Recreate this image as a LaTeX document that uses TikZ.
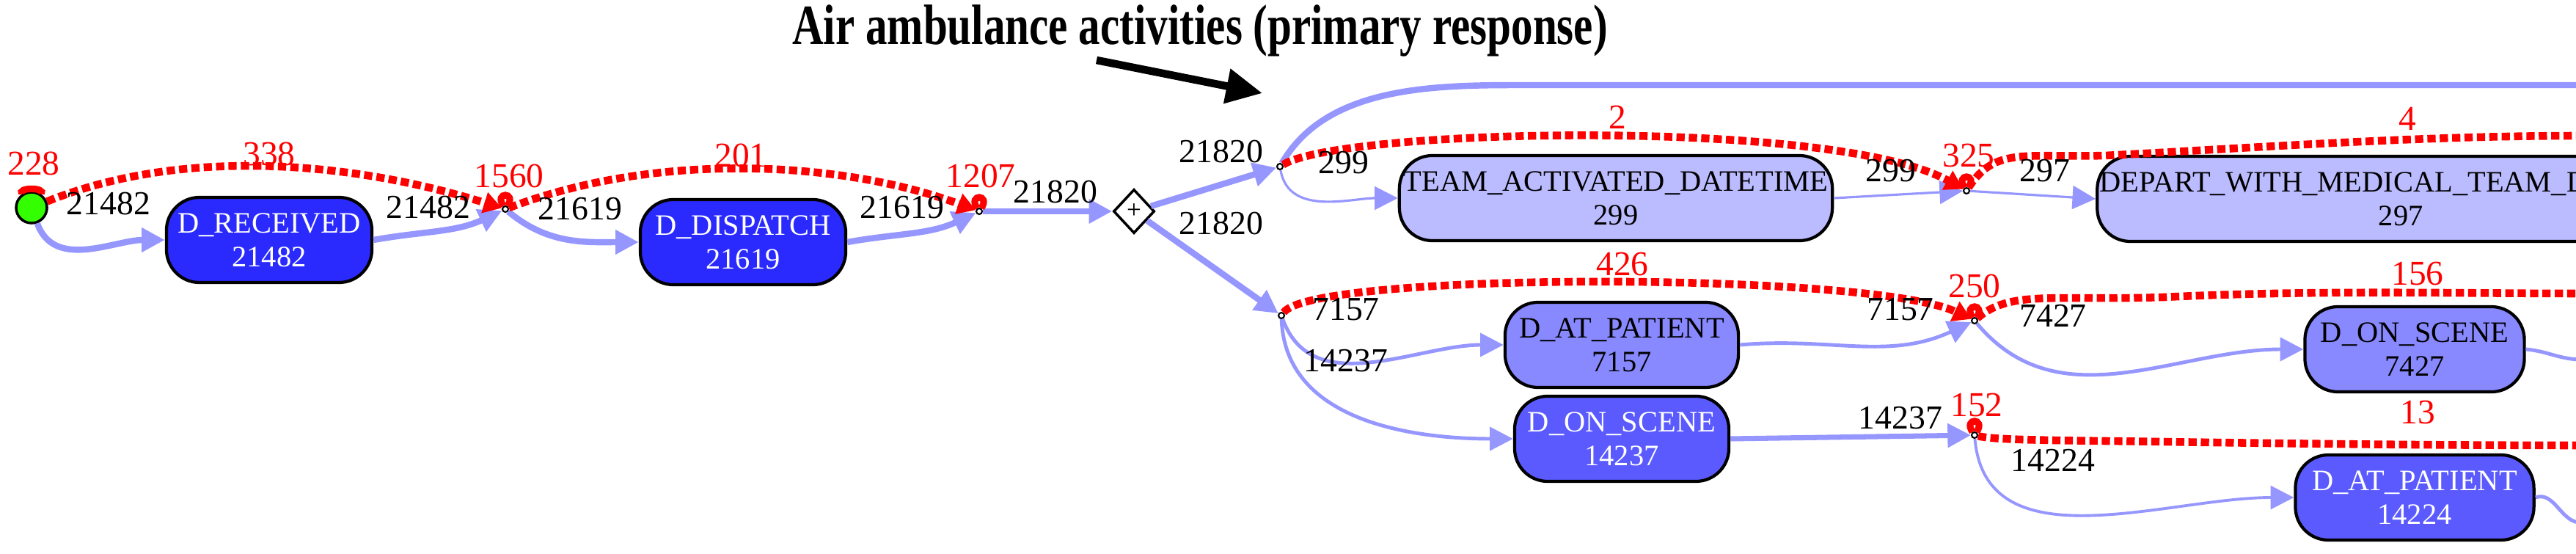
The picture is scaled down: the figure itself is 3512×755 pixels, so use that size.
\documentclass[tikz,border=0pt]{standalone}
\usepackage{fontspec}
\setmainfont{Liberation Serif}
\usetikzlibrary{arrows.meta,shapes.geometric}
\definecolor{eb}{RGB}{150,150,255}
\definecolor{f1}{RGB}{42,42,255}
\definecolor{f2}{RGB}{90,90,255}
\definecolor{f3}{RGB}{136,136,255}
\definecolor{f4}{RGB}{187,187,255}
\tikzset{
 box/.style={draw=black,line width=1.2pt,rounded corners=0.45cm,minimum height=1.16cm,align=center,font=\fontsize{11.5}{13}\selectfont,inner sep=1pt},
 jn/.style={circle,draw=black,line width=0.6pt,fill=white,inner sep=0pt,minimum size=0.08cm},
 el/.style={font=\fontsize{13}{13}\selectfont,inner sep=1pt},
 rl/.style={font=\fontsize{13.5}{14}\selectfont,inner sep=1pt,text=red},
 fl/.style={draw=eb,-{Triangle[length=9pt,width=9pt]}},
 rd/.style={draw=red,line width=3pt,dash pattern=on 3.2pt off 1.6pt,-{Triangle[length=7pt,width=8pt]}},
 lp/.style={draw=red,line width=2.6pt},
}
\begin{document}
\begin{tikzpicture}[x=0.01cm,y=-0.01cm]
\useasboundingbox (0,0) rectangle (3512,755);
\clip (0,0) rectangle (3512,755);
% title
\node[font=\fontsize{21}{22}\selectfont\bfseries] (title) at (1636,42) {\scalebox{0.8}[1.05]{Air ambulance activities (primary response)}};
\coordinate (atail) at (1495,82);
\coordinate (atip) at (1721,127);
\draw[line width=3pt,-{Triangle[length=14pt,width=13pt]}] (atail) -- (atip);
% nodes
\node[circle,draw=black,line width=1pt,fill=green!80!yellow,minimum size=0.42cm,inner sep=0pt] (st) at (43,283) {};
\node[box,fill=f1,text=white,minimum width=2.8cm] (rec) at (367,327) {D\_RECEIVED\\21482};
\node[jn] (j1) at (689,285) {};
\node[box,fill=f1,text=white,minimum width=2.8cm] (dis) at (1013,330) {D\_DISPATCH\\21619};
\node[jn] (j2) at (1335,288) {};
\node[diamond,draw=black,line width=1pt,fill=white,minimum width=0.56cm,minimum height=0.6cm,inner sep=0pt] (dm) at (1546,288) {};
\node[font=\fontsize{10}{10}\selectfont] (plus) at (1546,288) {+};
\node[jn] (su) at (1745,227) {};
\node[jn] (sl) at (1747,430) {};
\node[box,fill=f4,minimum width=5.9cm] (team) at (2203,270) {TEAM\_ACTIVATED\_DATETIME\\299};
\node[jn] (j3) at (2681,260) {};
\node[box,fill=f4,minimum width=8.3cm,align=left] (dep) at (3282,271) {DEPART\_WITH\_MEDICAL\_TEAM\_DATETIME\\\hspace*{3.8cm}297};
\node[box,fill=f3,minimum width=3.18cm] (ap1) at (2211,470) {D\_AT\_PATIENT\\7157};
\node[jn] (j4) at (2692,437) {};
\node[box,fill=f3,minimum width=2.99cm] (os1) at (3292,476) {D\_ON\_SCENE\\7427};
\node[box,fill=f2,text=white,minimum width=2.92cm] (os2) at (2211,598) {D\_ON\_SCENE\\14237};
\node[jn] (j5) at (2692,593) {};
\node[box,fill=f2,text=white,minimum width=3.25cm] (ap2) at (3292,678) {D\_AT\_PATIENT\\14224};
\coordinate (topend) at (3520,116);
\coordinate (s1) at (3520,490);
\coordinate (s2) at (3520,712);
\coordinate (r1) at (3520,185);
\coordinate (r2) at (3520,400);
\coordinate (r3) at (3520,607);
% flow edges
\draw[fl,line width=2.4pt] (st) to[out=-70,in=180] (rec.west);
\draw[fl,line width=2.4pt] (rec.east) to[out=10,in=205] (j1);
\draw[fl,line width=2.4pt] (j1) to[out=-40,in=180] (dis.west);
\draw[fl,line width=2.4pt] (dis.east) to[out=10,in=205] (j2);
\draw[fl,line width=2.4pt] (j2) -- (dm.west);
\draw[fl,line width=2.4pt] (dm) -- (su);
\draw[fl,line width=2.4pt] (dm) -- (sl);
\draw[draw=eb,line width=2.4pt] (su) to[out=60,in=180,looseness=0.9] (2080,116) -- (topend);
\draw[fl,line width=0.9pt] (su) to[out=-80,in=180] (team.west);
\draw[fl,line width=0.9pt] (team.east) -- (j3);
\draw[fl,line width=0.9pt] (j3) -- (dep.west);
\draw[fl,line width=1.4pt] (sl) to[out=-70,in=180] (ap1.west);
\draw[fl,line width=1.4pt] (sl) to[out=-88,in=180] (os2.west);
\draw[fl,line width=1.4pt] (ap1.east) to[out=5,in=205] (j4);
\draw[fl,line width=1.4pt] (j4) to[out=-50,in=180] (os1.west);
\draw[fl,line width=2pt] (os2.east) -- (j5);
\draw[fl,line width=1.1pt] (j5) to[out=-85,in=180] (ap2.west);
\draw[draw=eb,line width=1.4pt] (os1.east) to[out=-5,in=180] (s1);
\draw[draw=eb,line width=1.4pt] (ap2.east) to[out=20,in=185] (s2);
% red dashed
\draw[rd] (st) .. controls (250,200) and (480,220) .. (j1);
\draw[rd] (j1) .. controls (900,205) and (1150,220) .. (j2);
\draw[rd] (su) .. controls (1830,175) and (2500,160) .. (j3);
\draw[rd,-] (j3) .. controls (2720,200) and (2760,215) .. (2870,212) .. controls (3100,200) and (3300,185) .. (r1);
\draw[rd] (sl) .. controls (1790,370) and (2550,370) .. (j4);
\draw[rd,-] (j4) .. controls (2740,395) and (2800,410) .. (2950,405) .. controls (3150,395) and (3350,400) .. (r2);
\draw[rd,-] (j5) .. controls (2720,600) and (2800,600) .. (2950,602) .. controls (3150,605) and (3350,607) .. (r3);
% self loops
\draw[lp] (st) .. controls +(-20,-28) and +(20,-28) .. (st);
\foreach \j in {j1,j2,j3,j4,j5}
  \draw[lp] (\j) .. controls +(-16,-24) and +(16,-24) .. (\j);
% labels
\node[rl] (l228) at (46,223) {228};
\node[rl] (l338) at (367,210) {338};
\node[rl] (l1560) at (694,240) {1560};
\node[rl] (l201) at (1010,212) {201};
\node[rl] (l1207) at (1337,240) {1207};
\node[rl] (l2) at (2205,160) {2};
\node[rl] (l325) at (2684,212) {325};
\node[rl] (l4) at (3282,162) {4};
\node[rl] (l426) at (2212,360) {426};
\node[rl] (l250) at (2692,390) {250};
\node[rl] (l156) at (3296,373) {156};
\node[rl] (l152) at (2695,552) {152};
\node[rl] (l13) at (3296,562) {13};
\node[el] (e1) at (148,278) {21482};
\node[el] (e2) at (584,283) {21482};
\node[el] (e3) at (791,285) {21619};
\node[el] (e4) at (1230,283) {21619};
\node[el] (e5) at (1439,262) {21820};
\node[el] (e6) at (1665,207) {21820};
\node[el] (e7) at (1665,305) {21820};
\node[el] (e8) at (1832,222) {299};
\node[el] (e9) at (2578,233) {299};
\node[el] (e10) at (2788,233) {297};
\node[el] (e11) at (1835,422) {7157};
\node[el] (e12) at (1835,492) {14237};
\node[el] (e13) at (2591,422) {7157};
\node[el] (e14) at (2799,430) {7427};
\node[el] (e15) at (2591,570) {14237};
\node[el] (e16) at (2799,627) {14224};
\end{tikzpicture}
\end{document}
